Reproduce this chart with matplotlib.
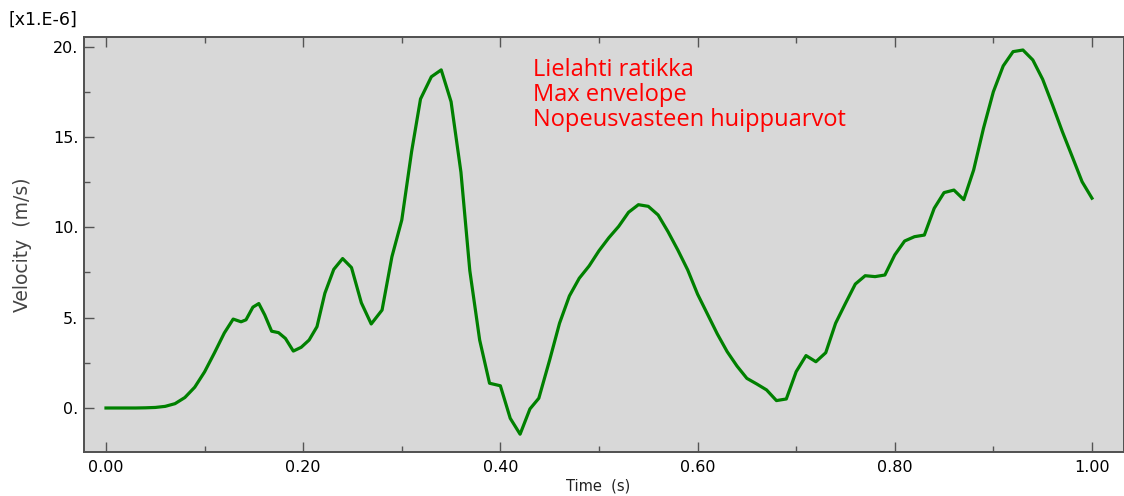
import matplotlib
matplotlib.use('Agg')
import matplotlib.pyplot as plt
from matplotlib.ticker import MultipleLocator, FormatStrFormatter

# max envelope of velocity response, values in 1e-6 m/s
time = [0.00, 0.01, 0.02, 0.03, 0.04, 0.05, 0.06, 0.07, 0.08, 0.09,
        0.10, 0.11, 0.12, 0.129, 0.137, 0.142, 0.149, 0.155, 0.161, 0.168,
        0.175, 0.182, 0.190, 0.198, 0.206, 0.214, 0.222, 0.231, 0.240, 0.249,
        0.259, 0.269, 0.280, 0.290, 0.300, 0.310, 0.319, 0.330, 0.340, 0.350,
        0.360, 0.369, 0.379, 0.389, 0.400, 0.410, 0.420, 0.430, 0.439, 0.450,
        0.460, 0.470, 0.480, 0.490, 0.500, 0.510, 0.520, 0.530, 0.540, 0.550,
        0.560, 0.570, 0.580, 0.590, 0.600, 0.610, 0.620, 0.630, 0.640, 0.650,
        0.660, 0.670, 0.680, 0.690, 0.700, 0.710, 0.720, 0.730, 0.740, 0.750,
        0.760, 0.770, 0.780, 0.790, 0.800, 0.810, 0.820, 0.830, 0.840, 0.850,
        0.860, 0.870, 0.880, 0.890, 0.900, 0.910, 0.920, 0.930, 0.940, 0.950,
        0.960, 0.970, 0.980, 0.990, 1.000]
velocity = [0.0, 0.0, 0.0, 0.0, 0.01, 0.03, 0.09, 0.24, 0.58, 1.15,
            2.0, 3.05, 4.15, 4.92, 4.77, 4.88, 5.58, 5.78, 5.15, 4.25,
            4.17, 3.85, 3.15, 3.36, 3.76, 4.50, 6.35, 7.67, 8.27, 7.77,
            5.82, 4.65, 5.42, 8.37, 10.4, 14.2, 17.1, 18.33, 18.71, 16.95,
            13.05, 7.6, 3.76, 1.37, 1.23, -0.57, -1.45, -0.05, 0.54, 2.66,
            4.69, 6.2, 7.18, 7.86, 8.7, 9.42, 10.05, 10.83, 11.25, 11.16,
            10.68, 9.76, 8.74, 7.64, 6.3, 5.2, 4.1, 3.12, 2.32, 1.64,
            1.33, 1.0, 0.41, 0.5, 2.01, 2.9, 2.56, 3.06, 4.69, 5.79,
            6.86, 7.32, 7.27, 7.36, 8.47, 9.24, 9.48, 9.57, 11.05, 11.92,
            12.06, 11.53, 13.17, 15.48, 17.5, 18.93, 19.72, 19.81, 19.26, 18.19,
            16.77, 15.29, 13.91, 12.52, 11.61]
notes = ['Lielahti ratikka', 'Max envelope', 'Nopeusvasteen huippuarvot']

plt.rcParams['font.family'] = 'DejaVu Sans'

fig = plt.figure(figsize=(11.24, 4.96), dpi=100)
ax = fig.add_axes([84/1124, 44/496, 1040/1124, 415/496])
ax.set_facecolor('#d8d8d8')

ax.plot(time, velocity, color='#008000', linewidth=2.3)

ax.set_xlim(-0.0223, 1.0325)
ax.set_ylim(-2.435, 20.53)

ax.xaxis.set_major_locator(MultipleLocator(0.2))
ax.xaxis.set_minor_locator(MultipleLocator(0.1))
ax.yaxis.set_major_locator(MultipleLocator(5))
ax.yaxis.set_minor_locator(MultipleLocator(2.5))
ax.xaxis.set_major_formatter(FormatStrFormatter('%.2f'))
ax.yaxis.set_major_formatter(FormatStrFormatter('%d.'))

ax.tick_params(which='both', direction='in', top=True, right=False,
               colors='#555555', labelcolor='black', labelsize=11.5)
ax.tick_params(which='major', length=7, width=1)
ax.tick_params(which='minor', length=4, width=1)
ax.tick_params(axis='x', pad=6)
ax.tick_params(axis='y', pad=4)

for s in ax.spines.values():
    s.set_color('#505050')
    s.set_linewidth(1.4)

ax.set_xlabel('Time  (s)', fontsize=10.5, color='#222222', va='center')
ax.xaxis.set_label_coords(0.494, -0.082)
ax.set_ylabel('Velocity  (m/s)', fontsize=13.5, color='#444444', va='center')
ax.yaxis.set_label_coords(-0.0596, 0.5)

fig.text(8/1124, 1 - 20/496, '[x1.E-6]', fontsize=12.5, va='center', ha='left')

for i, line in enumerate(notes):
    fig.text(533/1124, 1 - (76 + 25*i)/496, line, color='red',
             family='Open Sans', fontsize=17, ha='left', va='baseline')

fig.savefig('out.png', dpi=100)
